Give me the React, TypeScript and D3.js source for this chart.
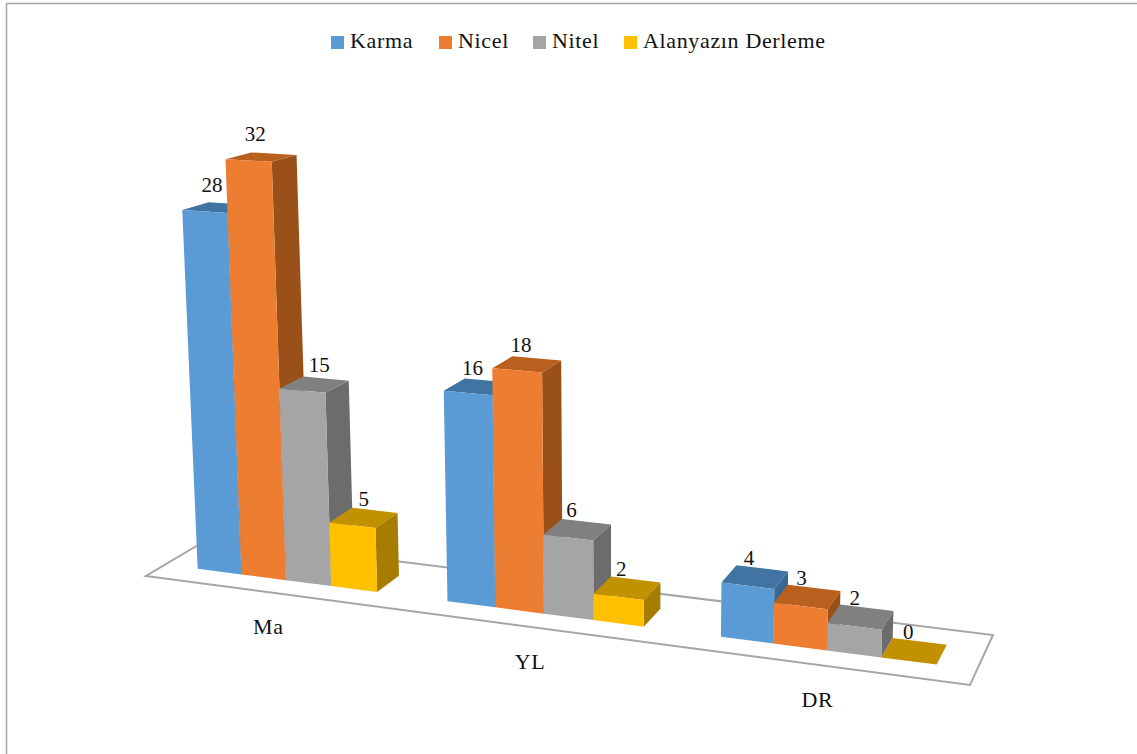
import * as d3 from "d3";

// Categories and series of the clustered 3D columns
const categories = ["Ma", "YL", "DR"];
const seriesNames = ["Karma", "Nicel", "Nitel", "Alanyazın Derleme"];
const karma = [28, 16, 4];
const nicel = [32, 18, 3];
const nitel = [15, 6, 2];
const derleme = [5, 2, 0];
const seriesValues = [karma, nicel, nitel, derleme];

// Face colours per series: front, top, right side
const frontColors = ["#5B9BD5", "#ED7D31", "#A5A5A5", "#FFC000"];
const topColors = ["#4274A3", "#B9601F", "#808080", "#C29100"];
const sideColors = ["#3A6894", "#9A5119", "#6C6C6C", "#A67D00"];

const WIDTH = 1137;
const HEIGHT = 754;
const FONT = "'Liberation Serif', serif";

type Pt = [number, number];

// Floor plane corners on screen: front-left, front-right, back-right, back-left
const floorQuad: Pt[] = [[146, 576], [970, 685], [993, 635], [210, 538]];
// Vanishing point of the vertical edges, far below the chart
const verticalVanish: Pt = [620, 10400];

// Square-to-quad homography for the floor
function floorHomography(q: Pt[]) {
  const [[x0, y0], [x1, y1], [x2, y2], [x3, y3]] = q;
  const dx1 = x1 - x2, dx2 = x3 - x2, sx = x0 - x1 + x2 - x3;
  const dy1 = y1 - y2, dy2 = y3 - y2, sy = y0 - y1 + y2 - y3;
  const den = dx1 * dy2 - dx2 * dy1;
  const g = (sx * dy2 - dx2 * sy) / den;
  const h = (dx1 * sy - sx * dy1) / den;
  return {
    a: x1 - x0 + g * x1, b: x3 - x0 + h * x3, c: x0,
    d: y1 - y0 + g * y1, e: y3 - y0 + h * y3, f: y0,
    g, h,
  };
}
const H = floorHomography(floorQuad);

// Along-axis placement: categories fill the floor, columns touch with a 150% gap
const uCategory = d3.scaleBand<string>().domain(categories).range([0, 1.002]);
const uSeries = d3.scaleBand<string>().domain(seriesNames)
  .range([0, uCategory.bandwidth()]).paddingInner(0).paddingOuter(0.75);

// Depth of the columns on the floor
const vFront = 0.29;
const vBack = 0.69;

// Height maps to a homogeneous weight along the vertical vanishing direction
const heightWeight = d3.scaleLinear().domain([0, 32]).range([0, -0.00127 * 32]);

function project(u: number, v: number, value: number): Pt {
  const t = heightWeight(value);
  const w = H.g * u + H.h * v + 1 + t;
  const x = H.a * u + H.b * v + H.c + t * verticalVanish[0];
  const y = H.d * u + H.e * v + H.f + t * verticalVanish[1];
  return [x / w, y / w];
}

const polygon = (pts: Pt[]) => d3.line()(pts)! + "Z";

// Legend layout
const legendSwatchX = [331, 439, 533, 624];
const legendTextX = [350, 458, 552, 643];

// Value labels sit a little left of the column top; a few labels on the first
// cluster are moved aside so they clear the neighbouring column
const labelShiftX = -6;
const labelNudgeX: Record<string, number> = { "Ma|Nitel": 11, "Ma|Alanyazın Derleme": 6 };
const labelNudgeY: Record<string, number> = { "Ma|Karma": -4, "Ma|Nicel": -4, "Ma|Nitel": -1 };

export default function App() {
  return (
    <svg
      width={WIDTH}
      height={HEIGHT}
      style={{ position: "fixed", left: 0, top: 0, background: "#fff" }}
      fontFamily={FONT}
    >
      {/* Chart area border, running off the page on two sides */}
      <rect x={6.5} y={3.5} width={WIDTH + 20} height={HEIGHT + 20} fill="#fff" stroke="#a6a6a6" strokeWidth={1.5} />

      {/* Legend */}
      {seriesNames.map((name, i) => (
        <g key={name}>
          <rect x={legendSwatchX[i]} y={36} width={13} height={13} fill={frontColors[i]} />
          <text x={legendTextX[i]} y={48} fontSize={22} letterSpacing={0.65} fill="#111">{name}</text>
        </g>
      ))}

      {/* Floor */}
      <path d={polygon(floorQuad)} fill="#fff" stroke="#a6a6a6" strokeWidth={2} strokeLinejoin="miter" />

      {/* Columns, painted left to right so each one overlaps its left neighbour */}
      {categories.map((cat, c) => (
        <g key={cat}>
          {seriesNames.map((name, s) => {
            const value = seriesValues[s][c];
            const u0 = uCategory(cat)! + uSeries(name)!;
            const u1 = u0 + uSeries.bandwidth();
            const fb = (u: number) => project(u, vFront, 0);
            const ft = (u: number) => project(u, vFront, value);
            const bb = (u: number) => project(u, vBack, 0);
            const bt = (u: number) => project(u, vBack, value);
            return (
              <g key={name}>
                <path d={polygon([ft(u0), ft(u1), bt(u1), bt(u0)])} fill={topColors[s]} />
                <path d={polygon([fb(u1), bb(u1), bt(u1), ft(u1)])} fill={sideColors[s]} />
                <path d={polygon([fb(u0), fb(u1), ft(u1), ft(u0)])} fill={frontColors[s]} />
              </g>
            );
          })}
        </g>
      ))}

      {/* Value labels above the column tops */}
      {categories.map((cat, c) =>
        seriesNames.map((name, s) => {
          const value = seriesValues[s][c];
          const uMid = uCategory(cat)! + uSeries(name)! + uSeries.bandwidth() / 2;
          const [x, y] = project(uMid, (vFront + vBack) / 2, value);
          const key = `${cat}|${name}`;
          return (
            <text
              key={key}
              x={x + labelShiftX + (labelNudgeX[key] ?? 0)}
              y={y - 12 + (labelNudgeY[key] ?? 0)}
              fontSize={21}
              textAnchor="middle"
              fill="#111"
            >
              {value}
            </text>
          );
        })
      )}

      {/* Category labels below the floor's front edge */}
      {categories.map((cat) => {
        const [x, y] = project(uCategory(cat)! + uCategory.bandwidth() / 2, 0, 0);
        return (
          <text key={cat} x={x} y={y + 42} fontSize={22} textAnchor="middle" letterSpacing={0.5} fill="#111">
            {cat}
          </text>
        );
      })}
    </svg>
  );
}
